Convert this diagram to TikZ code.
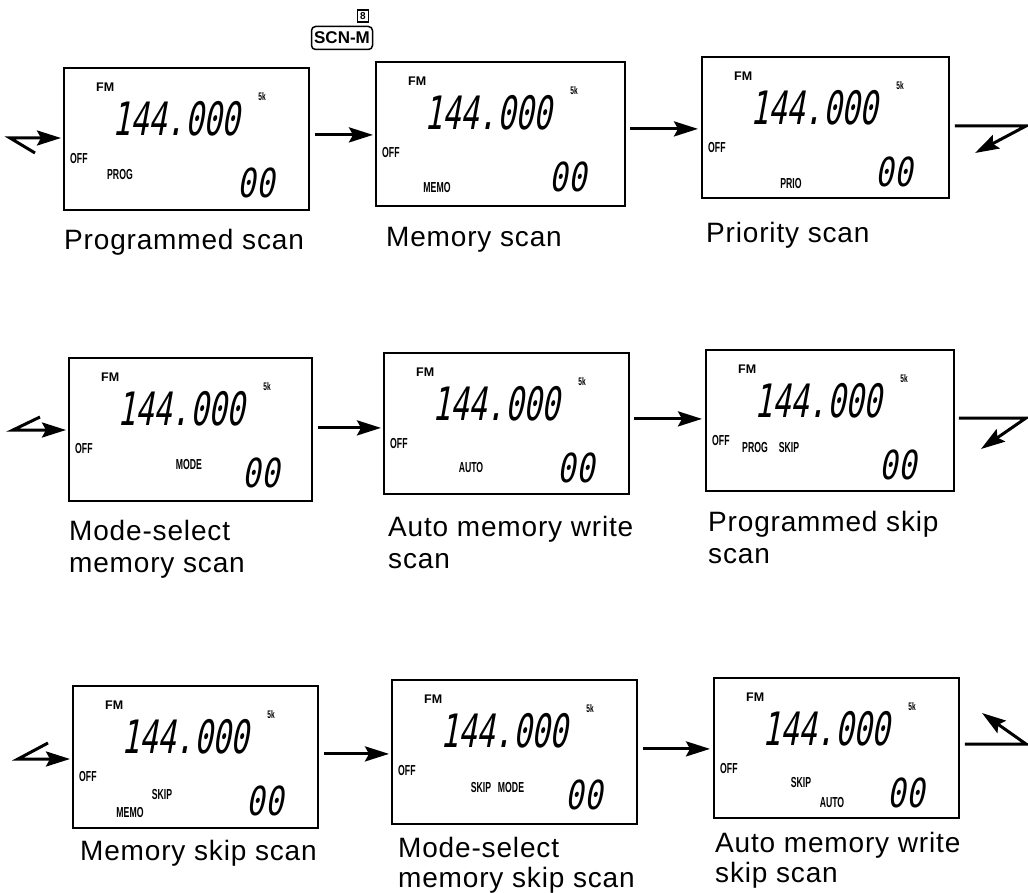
\documentclass[tikz,border=0pt]{standalone}
\usepackage{fontspec}
\setmainfont{Liberation Sans}
\newfontfamily\capfont[LetterSpace=3]{Liberation Sans}
\newfontfamily\lcdfont[FakeStretch=0.6]{Liberation Sans}
\newfontfamily\segfont[FakeStretch=0.66,FakeSlant=0.18]{DejaVu Sans Mono}
\newfontfamily\segfontb[FakeStretch=0.76,FakeSlant=0.18]{DejaVu Sans Mono}
\usetikzlibrary{arrows.meta,calc}

\tikzset{
  panel/.style={draw, line width=1.8pt, inner sep=0pt, anchor=north west},
  lcd/.style={font=\lcdfont\bfseries\fontsize{14.5}{15}\selectfont, inner sep=0pt},
  lcdwide/.style={font=\bfseries\fontsize{12.5}{13}\selectfont, inner sep=0pt},
  lcdsmall/.style={font=\lcdfont\bfseries\fontsize{11}{12}\selectfont, inner sep=0pt},
  seg/.style={font=\segfont\fontsize{46}{50}\selectfont, inner sep=0pt},
  segb/.style={font=\segfontb\fontsize{40}{44}\selectfont, inner sep=0pt},
  captxt/.style={font=\capfont\fontsize{28}{30}\selectfont, inner sep=0pt, anchor=base west},
  arr/.style={line width=3pt, -{Stealth[length=24pt,width=15pt,inset=4pt]}},
  keybox/.style={draw, rounded corners=4pt, line width=1.5pt, font=\bfseries\fontsize{17}{18}\selectfont, minimum width=61pt, minimum height=23pt, inner sep=0pt},
  smallkey/.style={draw, line width=1.2pt, font=\bfseries\fontsize{10}{11}\selectfont, minimum width=11pt, minimum height=12pt, inner sep=0pt}
}

\newcommand{\lcdpanel}[6]{%
  \begin{scope}[shift={(#2,#3)}]
    \node[panel, minimum width=#4pt, minimum height=#5pt] (#1) at (0,0) {};
    \node[lcdwide, anchor=west] (#1fm) at (33,20) {FM};
    \node[lcdsmall] (#1step) at (199,30) {5k};
    \node[seg] (#1freq) at (113,52) {144.000};
    \node[lcd, anchor=west] (#1off) at (7,92) {OFF};
    \node[segb] (#1ch) at (193,116) {00};
    #6
  \end{scope}}

\begin{document}
\begin{tikzpicture}[x=1pt, y=-1pt]
\useasboundingbox (0,0) rectangle (1028,893);
\fill[white] (0,0) rectangle (1028,893);

% key
\node[keybox] (scn) at (342,38) {SCN-M};
\node[smallkey] (k8) at (363,16) {8};

% row 1
\lcdpanel{P1}{63}{67}{245}{142}{\node[lcd] (P1mode) at (57,108) {PROG};}
\lcdpanel{P2}{375}{61}{249}{144}{\node[lcd] (P2mode) at (62,127) {MEMO};}
\lcdpanel{P3}{701}{56}{247}{141}{\node[lcd] (P3mode) at (90,128) {PRIO};}
% row 2
\lcdpanel{P4}{68}{357}{243}{143}{\node[lcd] (P4mode) at (121,108) {MODE};}
\lcdpanel{P5}{383}{352}{245}{141}{\node[lcd] (P5mode) at (88,116) {AUTO};}
\lcdpanel{P6}{705}{349}{248}{141}{\node[lcd] (P6mode) at (50,99) {PROG};
  \node[lcd] (P6skip) at (84,99) {SKIP};}
% row 3
\lcdpanel{P7}{72}{685}{245}{142}{\node[lcd] (P7skip) at (90,110) {SKIP};
  \node[lcd] (P7mode) at (58,128) {MEMO};}
\lcdpanel{P8}{391}{679}{245}{144}{\node[lcd] (P8skip) at (90,109) {SKIP};
  \node[lcd] (P8mode) at (120,109) {MODE};}
\lcdpanel{P9}{713}{677}{245}{140}{\node[lcd] (P9skip) at (88,106) {SKIP};
  \node[lcd] (P9mode) at (119,126) {AUTO};}

% captions
\node[captxt] (P1cap) at (64,250) {Programmed scan};
\node[captxt] (P2cap) at (386,247) {Memory scan};
\node[captxt] (P3cap) at (706,243) {Priority scan};
\node[captxt] (P4capA) at (69,540) {Mode-select};
\node[captxt] (P4capB) at (69,572) {memory scan};
\node[captxt] (P5capA) at (388,536) {Auto memory write};
\node[captxt] (P5capB) at (388,568) {scan};
\node[captxt] (P6capA) at (708,531) {Programmed skip};
\node[captxt] (P6capB) at (708,563) {scan};
\node[captxt] (P7cap) at (80,860) {Memory skip scan};
\node[captxt] (P8capA) at (398,857) {Mode-select};
\node[captxt] (P8capB) at (398,887) {memory skip scan};
\node[captxt] (P9capA) at (715,852) {Auto memory write};
\node[captxt] (P9capB) at (715,882) {skip scan};

% arrows between panels
\draw[arr] ($(P1.east)+(5,-4)$) -- ($(P1.east -| P2.west)+(-2,-4)$);
\draw[arr] ($(P2.east)+(4,-5)$) -- ($(P2.east -| P3.west)+(-3,-5)$);
\draw[arr] ($(P4.east)+(5,-1.5)$) -- ($(P4.east -| P5.west)+(-2,-1.5)$);
\draw[arr] ($(P5.east)+(4,-4.5)$) -- ($(P5.east -| P6.west)+(-3,-4.5)$);
\draw[arr] ($(P7.east)+(5,-3)$) -- ($(P7.east -| P8.west)+(-2,-3)$);
\draw[arr] ($(P8.east)+(5,-3)$) -- ($(P8.east -| P9.west)+(-3,-3)$);

% row 1 zigzags
\coordinate (L1s) at (35,153);
\coordinate (L1k) at (10,138);
\draw[arr] (L1s) -- (L1k) -- ($(L1k -| P1.west)+(-2,0)$);
\coordinate (R1k) at (1026,126);
\coordinate (R1e) at (975,153);
\draw[arr] ($(P3.east |- R1k)+(5,0)$) -- (R1k) -- (R1e);

% row 2 zigzags
\coordinate (L2s) at (40,417);
\coordinate (L2k) at (13,430);
\draw[arr] (L2s) -- (L2k) -- ($(L2k -| P4.west)+(-2,0)$);
\coordinate (R2k) at (1026,418);
\coordinate (R2e) at (981,449);
\draw[arr] ($(P6.east |- R2k)+(4,0)$) -- (R2k) -- (R2e);

% row 3 zigzags
\coordinate (L3s) at (48,743);
\coordinate (L3k) at (18,759);
\draw[arr] (L3s) -- (L3k) -- ($(L3k -| P7.west)+(-2,0)$);
\coordinate (R3k) at (1026,744);
\coordinate (R3e) at (982,713);
\draw[arr] ($(P9.east |- R3k)+(5,0)$) -- (R3k) -- (R3e);
\end{tikzpicture}
\end{document}
